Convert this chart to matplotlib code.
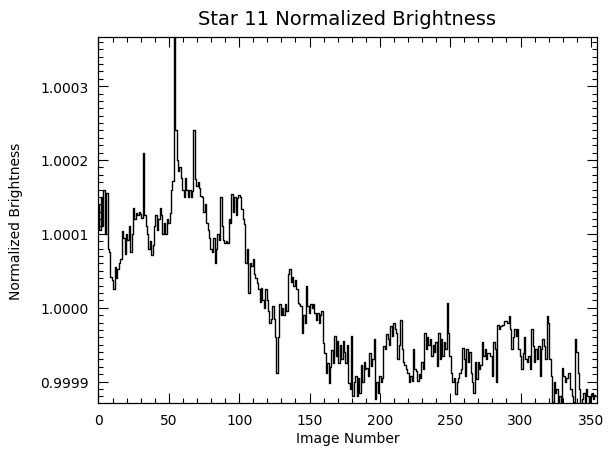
import matplotlib
matplotlib.use('Agg')
import matplotlib.pyplot as plt
from matplotlib.ticker import MultipleLocator, FormatStrFormatter
import numpy as np

# Deviation from 1.0 in parts per million, one value per image
brightness_ppm = [
    140, 105, 150, 110, 160, 100, 155, 80, 75, 42,
    38, 26, 55, 40, 52, 60, 66, 104, 95, 73,
    100, 92, 110, 75, 100, 135, 120, 128, 125, 130,
    127, 122, 210, 125, 110, 100, 80, 90, 72, 85,
    110, 125, 105, 120, 135, 125, 100, 115, 100, 120,
    115, 128, 160, 172, 380, 240, 200, 185, 190, 175,
    160, 150, 175, 160, 150, 160, 150, 158, 240, 174,
    165, 170, 162, 151, 150, 130, 140, 115, 105, 95,
    80, 75, 95, 61, 80, 100, 92, 150, 111, 92,
    88, 90, 88, 120, 115, 154, 130, 150, 125, 148,
    152, 150, 133, 120, 113, 60, 80, 20, 60, 57,
    66, 45, 40, 34, 25, 8, 27, 10, 0, 25,
    10, -5, -20, -15, 2, -15, -40, -88, -40, 5,
    -10, 0, -10, 5, -5, 45, 52, 35, 41, 29,
    38, 25, 7, 5, 2, -34, -10, -20, 29, 2,
    -7, 5, 0, 5, -7, -16, -7, -20, -10, -5,
    -48, -61, -88, -75, -102, -80, -57, -75, -38, -65,
    -45, -75, -50, -70, -45, -60, -75, -50, -102, -110,
    -38, -120, -101, -92, -120, -95, -115, -77, -101, -74,
    -83, -81, -92, -61, -79, -70, -43, -124, -101, -115,
    -92, -101, -95, -52, -56, -36, -43, -50, -25, -38,
    -20, -29, -34, -70, -50, -16, -56, -74, -77, -83,
    -88, -101, -92, -99, -56, -83, -86, -99, -90, -95,
    -74, -83, -34, -56, -40, -50, -43, -65, -50, -60,
    -47, -79, -34, -70, -43, -65, -47, -56, 7, -34,
    -65, -88, -101, -95, -117, -101, -95, -88, -83, -54,
    -70, -92, -56, -74, -60, -88, -100, -115, -74, -97,
    -74, -83, -78, -47, -65, -56, -70, -61, -61, -65,
    -92, -47, -56, -101, -23, -29, -25, -23, -23, -18,
    -18, -20, -11, -29, -56, -40, -29, -38, -29, -56,
    -65, -83, -61, -40, -70, -74, -65, -83, -29, -52,
    -74, -56, -70, -52, -92, -56, -43, -52, -70, -11,
    -20, -70, -92, -128, -101, -115, -110, -128, -119, -128,
    -81, -92, -101, -95, -88, -88, -110, -119, -128, -43,
    -60, -88, -110, -130, -124, -115, -128, -110, -120, -128,
    -119, -115, -124, -118,
]
image_number = np.arange(len(brightness_ppm))
brightness = 1.0 + np.array(brightness_ppm) * 1e-6

y_ticks = [0.9999, 1.0000, 1.0001, 1.0002, 1.0003]

fig = plt.figure(figsize=(6.09, 4.60), dpi=100, facecolor='white')
ax = fig.add_axes([0.1617, 0.1217, 0.8178, 0.7957])

ax.plot(image_number, brightness, drawstyle='steps-mid', color='black', linewidth=1.0)

ax.set_xlim(0, 354)
ax.set_ylim(0.999871, 1.0003665)

ax.xaxis.set_major_locator(MultipleLocator(50))
ax.xaxis.set_minor_locator(MultipleLocator(10))
ax.set_yticks(y_ticks)
ax.yaxis.set_minor_locator(MultipleLocator(0.00001))
ax.yaxis.set_major_formatter(FormatStrFormatter('%.4f'))

ax.tick_params(which='both', direction='in', top=True, right=True, width=0.8,
               labelsize=10, colors='black')
ax.tick_params(which='major', length=7)
ax.tick_params(which='minor', length=3.5)
ax.tick_params(axis='x', pad=7)
ax.tick_params(axis='y', pad=7)
for s in ax.spines.values():
    s.set_linewidth(0.9)

ax.set_title('Star 11 Normalized Brightness', fontsize=14, pad=9)
ax.set_xlabel('Image Number', fontsize=10, labelpad=3)
ax.set_ylabel('Normalized Brightness', fontsize=10, labelpad=12)

fig.savefig('out.png', dpi=100, facecolor='white')
